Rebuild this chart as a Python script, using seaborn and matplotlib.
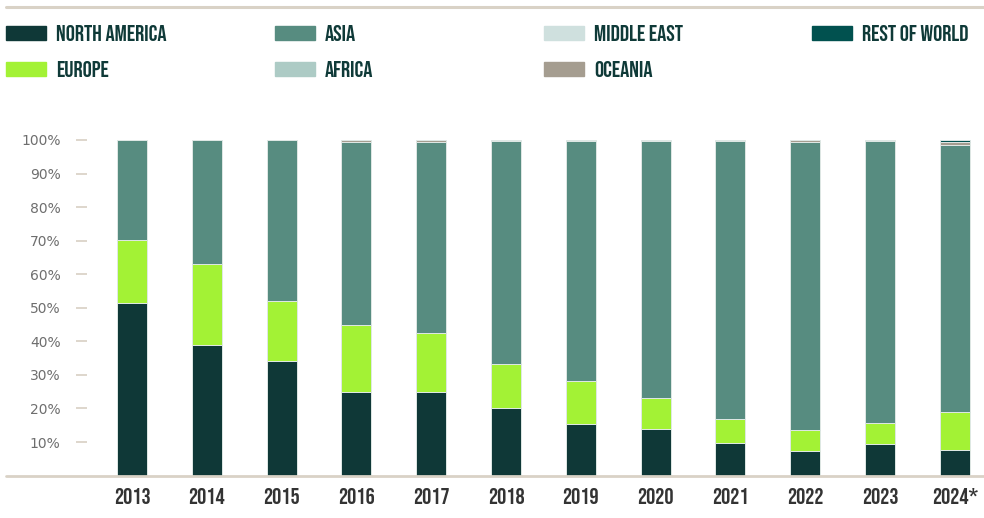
import numpy as np
import matplotlib
matplotlib.use("Agg")
import matplotlib.pyplot as plt
from matplotlib.lines import Line2D
from matplotlib.patches import Rectangle
import seaborn as sns

years = ["2013", "2014", "2015", "2016", "2017", "2018",
         "2019", "2020", "2021", "2022", "2023", "2024*"]

# share of total (%)
north_america = [51.4, 39.0, 34.2, 24.8, 25.0, 20.2, 15.3, 13.9, 9.8, 7.2, 9.5, 7.6]
europe = [18.8, 24.0, 17.7, 20.2, 17.4, 13.0, 12.9, 9.2, 7.2, 6.5, 6.3, 11.3]
asia = [29.8, 37.0, 48.1, 54.5, 57.1, 66.6, 71.5, 76.6, 82.8, 85.8, 83.9, 79.5]
africa = [0, 0, 0, 0, 0, 0.2, 0.3, 0.3, 0.2, 0, 0.3, 0]
middle_east = [0, 0, 0, 0, 0, 0, 0, 0, 0, 0, 0, 0]
oceania = [0, 0, 0, 0.5, 0.5, 0, 0, 0, 0, 0.5, 0, 1.0]
rest_of_world = [0, 0, 0, 0, 0, 0, 0, 0, 0, 0, 0, 0.6]

series = [
    ("NORTH AMERICA", north_america, "#0f3837"),
    ("EUROPE", europe, "#a3f235"),
    ("ASIA", asia, "#578c80"),
    ("AFRICA", africa, "#adcbc5"),
    ("MIDDLE EAST", middle_east, "#cfe0de"),
    ("OCEANIA", oceania, "#a59d90"),
    ("REST OF WORLD", rest_of_world, "#01514f"),
]

legend_order = ["NORTH AMERICA", "ASIA", "MIDDLE EAST", "REST OF WORLD",
                "EUROPE", "AFRICA", "OCEANIA"]

HEAD_FONT = ["Bebas Neue", "Oswald", "DejaVu Sans"]

sns.set_style("white")
plt.rcParams["font.family"] = ["DejaVu Sans"]

W, H = 984, 518
fig = plt.figure(figsize=(W / 100, H / 100), dpi=100)
ax = fig.add_axes([87 / W, (H - 475.6) / H, (984 - 87) / W, (475.6 - 136.6) / H])

# stacked bars, one layer per region
bottom = np.zeros(len(years))
for name, vals, col in series:
    sns.barplot(x=years, y=vals, bottom=bottom, color=col, width=0.4,
                saturation=1, edgecolor="#dfe8e5", linewidth=0.7, ax=ax,
                order=years)
    bottom = bottom + np.array(vals)

ax.set_xlim(-0.602, 11.39)
ax.set_ylim(0, 101)
ax.set_yticks(range(10, 101, 10))
ax.set_yticklabels([f"{v}%" for v in range(10, 101, 10)])
for s in ax.spines.values():
    s.set_visible(False)
ax.tick_params(axis="y", length=8, width=1.2, color="#d8d0c4", pad=11,
               labelsize=10, labelcolor="#6e6e6e", left=True)
ax.tick_params(axis="x", length=0, pad=9)
for lab in ax.get_xticklabels():
    lab.set_fontfamily(HEAD_FONT)
    lab.set_fontsize(16.5)
    lab.set_color("#333333")
ax.set_xlabel("")
ax.set_ylabel("")

# baseline and top rule
fig.add_artist(Line2D([6 / W, 1], [(H - 476) / H] * 2, color="#d9d2c6", lw=2))
fig.add_artist(Line2D([6 / W, 1], [(H - 7) / H] * 2, color="#d9d2c6", lw=2.2))

# legend, four columns
colors = {n: c for n, _, c in series}
col_x = [6, 275, 544, 812]
row_y = [33, 69]
for i, name in enumerate(legend_order):
    cx = col_x[i % 4]
    cy = row_y[i // 4]
    fig.add_artist(Rectangle((cx / W, (H - cy - 7) / H), 40 / W, 14 / H,
                             transform=fig.transFigure, color=colors[name]))
    fig.text((cx + 50) / W, (H - cy) / H, name, va="center", ha="left",
             fontsize=16.5, color="#0f3a38", family=HEAD_FONT)

fig.savefig("out.png", dpi=100)
